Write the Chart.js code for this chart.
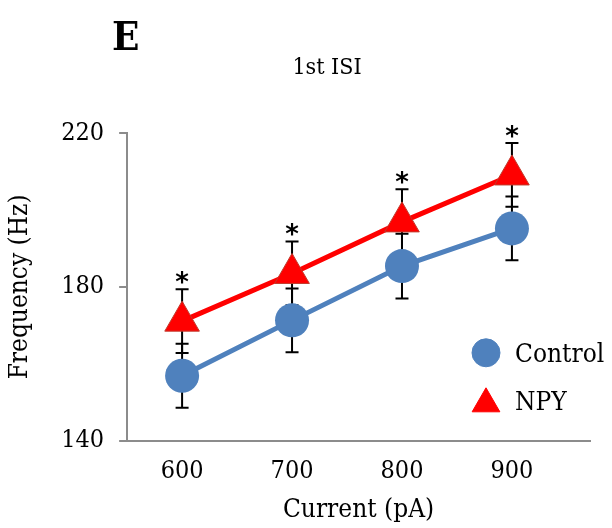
<!DOCTYPE html>
<html>
<head>
<meta charset="utf-8">
<script src="https://cdn.jsdelivr.net/npm/chart.js@4.4.1/dist/chart.umd.min.js"></script>
<style>
  html, body { margin: 0; padding: 0; background: #fff; }
  #wrap { width: 612px; height: 528px; }
</style>
</head>
<body>
<div id="wrap"><canvas id="isi" width="612" height="528"></canvas></div>
<script>
const currents = [600, 700, 800, 900]
const controlMean = [156.9, 171.3, 185.4, 195.2]
const controlErr = [8.3, 8.3, 8.4, 8.3]
const npyMean = [171.1, 183.5, 196.9, 209.1]
const npyErr = [8.3, 8.3, 8.5, 8.3]
const significant = [true, true, true, true]
const yTicks = [140, 180, 220]

const serif = '"DejaVu Serif Condensed", "DejaVu Serif", serif'

// error bars behind the markers
const errorBars = {
    id: 'errorBars',
    beforeDatasetsDraw(chart) {
        const ctx = chart.ctx
        const y = chart.scales.y
        ctx.save()
        ctx.strokeStyle = '#000'
        ctx.lineWidth = 2
        chart.data.datasets.forEach((ds, i) => {
            const meta = chart.getDatasetMeta(i)
            meta.data.forEach((pt, j) => {
                const top = y.getPixelForValue(ds.data[j].y + ds.err[j])
                const bot = y.getPixelForValue(ds.data[j].y - ds.err[j])
                ctx.beginPath()
                ctx.moveTo(pt.x, top); ctx.lineTo(pt.x, bot)
                ctx.moveTo(pt.x - 6.5, top); ctx.lineTo(pt.x + 6.5, top)
                ctx.moveTo(pt.x - 6.5, bot); ctx.lineTo(pt.x + 6.5, bot)
                ctx.stroke()
            })
        })
        ctx.restore()
    }
}

const extras = {
    id: 'extras',
    afterDraw(chart) {
        const ctx = chart.ctx
        const y = chart.scales.y
        const area = chart.chartArea
        ctx.save()
        // asterisks over NPY
        const npy = chart.data.datasets[1]
        const meta = chart.getDatasetMeta(1)
        ctx.fillStyle = '#000'
        ctx.font = 'bold 26px "DejaVu Sans", sans-serif'
        ctx.textAlign = 'center'
        ctx.textBaseline = 'alphabetic'
        meta.data.forEach((pt, j) => {
            if (!significant[j]) return
            const top = y.getPixelForValue(npy.data[j].y + npy.err[j])
            ctx.fillText('*', pt.x, top + 2)
        })
        // title and panel letter
        ctx.font = '23px ' + serif
        ctx.textBaseline = 'middle'
        ctx.fillText('1st ISI', 327, 68)
        ctx.textAlign = 'left'
        ctx.textBaseline = 'alphabetic'
        ctx.font = 'bold 40px ' + serif
        ctx.fillText('E', 112, 50)
        // legend inside plot
        ctx.font = '26px ' + serif
        ctx.textBaseline = 'middle'
        chart.data.datasets.forEach((ds, i) => {
            const lx = area.right - 104
            const ly = area.bottom - 88 + i * 48
            ctx.fillStyle = ds.pointBackgroundColor
            ctx.strokeStyle = ds.pointBackgroundColor
            Chart.helpers.drawPoint(ctx, {
                pointStyle: ds.pointStyle,
                radius: i === 0 ? 14 : 16,
                borderWidth: 1,
                rotation: 0
            }, lx, ly + (i === 0 ? 0 : 3))
            ctx.fillStyle = '#000'
            ctx.fillText(ds.label, lx + 29, ly + 2)
        })
        ctx.restore()
    }
}

const config = {
    type: 'line',
    data: {
        datasets: [
            {
                label: 'Control',
                data: currents.map((c, i) => ({ x: c, y: controlMean[i] })),
                err: controlErr,
                borderColor: '#4F81BD',
                borderWidth: 5,
                pointStyle: 'circle',
                pointRadius: 17,
                pointBackgroundColor: '#4F81BD',
                pointBorderColor: '#4F81BD',
                pointBorderWidth: 0,
                tension: 0
            },
            {
                label: 'NPY',
                data: currents.map((c, i) => ({ x: c, y: npyMean[i] })),
                err: npyErr,
                borderColor: '#FF0000',
                borderWidth: 5,
                pointStyle: 'triangle',
                pointRadius: 20,
                pointBackgroundColor: '#FF0000',
                pointBorderColor: '#C0392B',
                pointBorderWidth: 1,
                tension: 0
            }
        ]
    },
    options: {
        responsive: false,
        animation: false,
        layout: { padding: { left: 5, right: 22, top: 133, bottom: 2 } },
        plugins: {
            legend: { display: false },
            tooltip: { enabled: false },
            title: { display: false }
        },
        scales: {
            x: {
                type: 'linear',
                min: 550,
                max: 971,
                afterBuildTicks: axis => { axis.ticks = currents.map(v => ({ value: v })) },
                grid: { display: false },
                border: { display: true, color: '#8c8c8c', width: 2 },
                ticks: {
                    color: '#000',
                    font: { family: serif, size: 25 },
                    padding: 8
                },
                title: {
                    display: true,
                    text: 'Current (pA)',
                    color: '#000',
                    font: { family: serif, size: 26 },
                    padding: { top: 0, bottom: 0 }
                }
            },
            y: {
                min: 140,
                max: 220,
                afterBuildTicks: axis => { axis.ticks = yTicks.map(v => ({ value: v })) },
                grid: { drawOnChartArea: false, drawTicks: true, tickLength: 8, color: '#8c8c8c', lineWidth: 2 },
                border: { display: true, color: '#8c8c8c', width: 2 },
                ticks: {
                    color: '#000',
                    font: { family: serif, size: 25 },
                    padding: 15
                },
                title: {
                    display: true,
                    text: 'Frequency (Hz)',
                    color: '#000',
                    font: { family: serif, size: 26 },
                    padding: { top: 0, bottom: 10 }
                }
            }
        }
    },
    plugins: [errorBars, extras]
}

new Chart(document.getElementById('isi'), config)
</script>
</body>
</html>
